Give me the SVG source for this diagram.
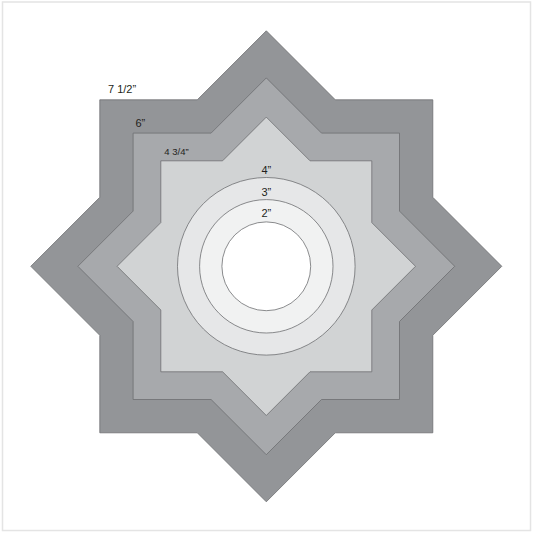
<svg xmlns="http://www.w3.org/2000/svg" width="533" height="533" viewBox="0 0 533 533">
<style>
.star{stroke:#6d6e71;stroke-width:0.8;stroke-linejoin:miter}
.ring{stroke:#6d6e71;stroke-width:0.8}
.lbl{font-family:"Liberation Sans",Arial,sans-serif;fill:#231f20}
</style>
<rect x="0" y="0" width="533" height="533" fill="#ffffff"/>
<rect x="2.5" y="2" width="528" height="528.5" fill="none" stroke="#e4e4e4" stroke-width="1.5"/>
<g id="star-7-1-2">
<polygon class="star" fill="#939598" points="266.3,30.8 335.3,99.8 432.8,99.8 432.8,197.3 501.8,266.3 432.8,335.3 432.8,432.8 335.3,432.8 266.3,501.8 197.3,432.8 99.8,432.8 99.8,335.3 30.8,266.3 99.8,197.3 99.8,99.8 197.3,99.8"/>
<text class="lbl" x="108" y="92.5" font-size="11">7 1/2”</text>
</g>
<g id="star-6">
<polygon class="star" fill="#a7a9ac" points="266.3,77.9 321.5,133.1 399.5,133.1 399.5,211.1 454.7,266.3 399.5,321.5 399.5,399.5 321.5,399.5 266.3,454.7 211.1,399.5 133.1,399.5 133.1,321.5 77.9,266.3 133.1,211.1 133.1,133.1 211.1,133.1"/>
<text class="lbl" x="135.5" y="126.7" font-size="11">6”</text>
</g>
<g id="star-4-3-4">
<polygon class="star" fill="#d1d3d4" points="266.3,117.1 310,160.8 371.8,160.8 371.8,222.6 415.5,266.3 371.8,310 371.8,371.8 310,371.8 266.3,415.5 222.6,371.8 160.8,371.8 160.8,310 117.1,266.3 160.8,222.6 160.8,160.8 222.6,160.8"/>
<text class="lbl" x="164.3" y="155.4" font-size="9.5">4 3/4”</text>
</g>
<g id="circle-4">
<circle class="ring" cx="266.3" cy="266.3" r="88.8" fill="#e6e7e8"/>
<text class="lbl" x="266.3" y="174" font-size="11" text-anchor="middle">4”</text>
</g>
<g id="circle-3">
<circle class="ring" cx="266.3" cy="266.3" r="66.7" fill="#f1f2f2"/>
<text class="lbl" x="266.3" y="195.7" font-size="11" text-anchor="middle">3”</text>
</g>
<g id="circle-2">
<circle class="ring" cx="266.3" cy="266.3" r="44.4" fill="#ffffff"/>
<text class="lbl" x="266.3" y="217" font-size="11" text-anchor="middle">2”</text>
</g>
<g id="connectors"></g>
</svg>
